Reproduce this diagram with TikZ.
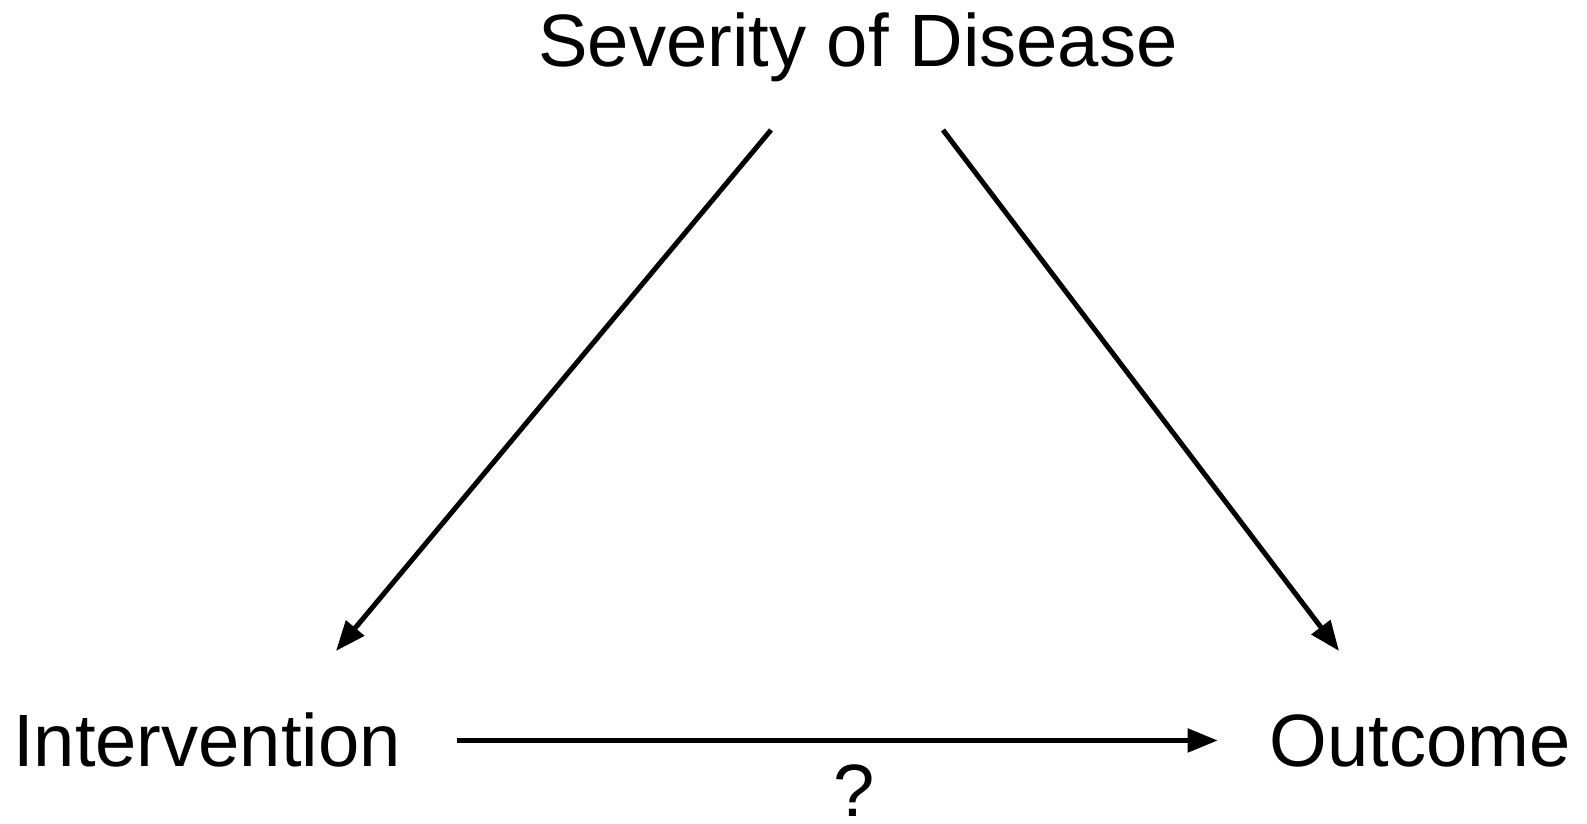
\documentclass[tikz,border=0pt]{standalone}
\usepackage{fontspec}
\setmainfont{Liberation Sans}
\usetikzlibrary{arrows.meta,positioning}

\begin{document}
\begin{tikzpicture}[x=0.01cm, y=0.01cm, every node/.style={font=\fontsize{21.1}{26}\selectfont, inner sep=0pt}, arr/.style={line width=0.05cm, -{Triangle[length=0.3cm, width=0.23cm]}}]
\useasboundingbox (0,0) rectangle (1587,824);
\node[anchor=base] (sev) at (858,757) {Severity of Disease};
\node[anchor=base] (int) at (207,57) {Intervention};
\node[anchor=base] (out) at (1420,57) {Outcome};
\node[anchor=base] (q) at (854,7) {?};
\draw[arr] ([shift={(-87,-63)}]sev.base) -- ([shift={(129,116)}]int.base);
\draw[arr] ([shift={(85,-63)}]sev.base) -- ([shift={(-81,116)}]out.base);
\draw[arr, shorten <=0.55cm, shorten >=0.51cm] (int.east) -- (int.east -| out.west);
\end{tikzpicture}
\end{document}
